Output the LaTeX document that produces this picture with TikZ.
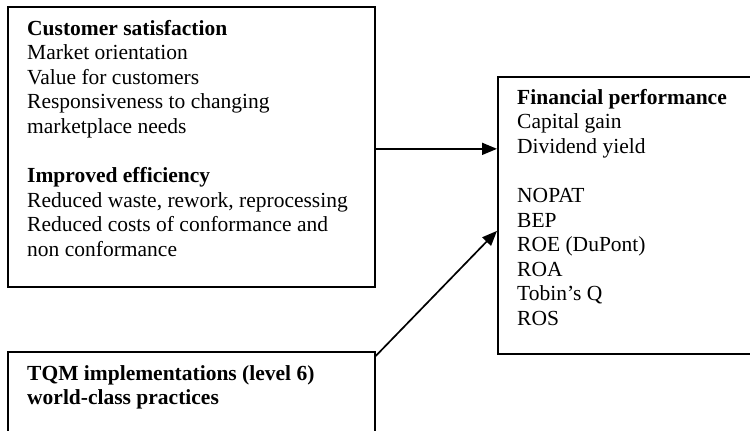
\documentclass[tikz,border=0pt]{standalone}
\usepackage{fontspec}
\setmainfont{Liberation Serif}
\usetikzlibrary{arrows.meta}
\tikzset{
  box/.style={draw=black, line width=1.7bp, rectangle, inner sep=0pt, anchor=north west},
  txt/.style={inner sep=0pt, anchor=base west, font=\fontsize{21.5bp}{24.6bp}\selectfont},
  conn/.style={line width=1.7bp, -{Triangle[length=15bp,width=12bp]}}
}
\begin{document}
\begin{tikzpicture}[x=1bp,y=-1bp]
\useasboundingbox (0,0) rectangle (750,430);
\clip (0,0) rectangle (750,430);
% boxes
\node[box, minimum width=367bp, minimum height=280bp] (cs) at (7,6) {};
\node[box, minimum width=300bp, minimum height=277bp] (fp) at (497,76) {};
\node[box, minimum width=367bp, minimum height=120bp] (tqm) at (7,351) {};
% texts
\node[txt] (cstext) at (27,35) {\parbox[t]{345bp}{\raggedright
\textbf{Customer satisfaction}\\
Market orientation\\
Value for customers\\
Responsiveness to changing\\
marketplace needs\\[24.6bp]
\textbf{Improved efficiency}\\
Reduced waste, rework, reprocessing\\
Reduced costs of conformance and\\
non conformance}};
\node[txt] (fptext) at (517,104) {\parbox[t]{230bp}{\raggedright
\textbf{Financial performance}\\
Capital gain\\
Dividend yield\\[24.6bp]
NOPAT\\
BEP\\
ROE (DuPont)\\
ROA\\
Tobin's Q\\
ROS}};
\node[txt] (tqmtext) at (27,380) {\parbox[t]{345bp}{\raggedright\bfseries
TQM implementations (level 6)\\
world-class practices}};
% connectors
\draw[conn] ([yshift=-2bp]cs.east) -- ([yshift=-2bp]cs.east -| fp.west);
\draw[conn] ([yshift=-5bp]tqm.north east) -- ([yshift=-15.5bp]fp.west);
\end{tikzpicture}
\end{document}
